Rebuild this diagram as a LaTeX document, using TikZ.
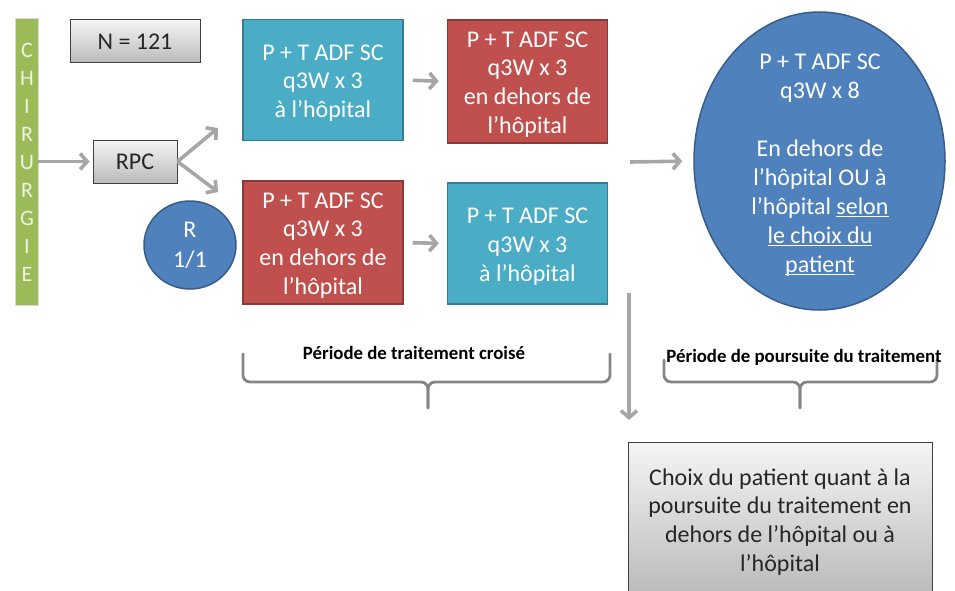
\documentclass[tikz,border=0pt]{standalone}
\usepackage{fontspec}
\setmainfont{Carlito}
\usepackage{tikz}
\usetikzlibrary{
	arrows.meta,
	positioning,
	shapes.geometric,
}
\definecolor{homefill}{HTML}{4BACC6}
\definecolor{homeline}{HTML}{357D91}
\definecolor{awayfill}{HTML}{C0504D}
\definecolor{awayline}{HTML}{8C3836}
\definecolor{bluefill}{HTML}{4F81BD}
\definecolor{blueline}{HTML}{385D8A}
\definecolor{surgfill}{HTML}{9BBB59}
\definecolor{surgtext}{HTML}{EEF3E2}
\definecolor{linkgray}{HTML}{A6A6A6}
\definecolor{bracegray}{HTML}{858585}
\newcommand\uln[1]{\underline{\smash{#1}}}
\newcommand\topstrut{\rule{0pt}{21.5pt}}

\tikzset{box/.style={draw,rectangle,inner sep=0mm,align=center,line width=1.5pt,font=\fontsize{24}{28.7}\selectfont,}}
\tikzset{home/.style={box,fill=homefill,draw=homeline,text=white,minimum width=160pt,minimum height=121pt,}}
\tikzset{away/.style={box,fill=awayfill,draw=awayline,text=white,minimum width=160pt,minimum height=123pt,}}
\tikzset{grey box/.style={box,top color=black!4,bottom color=black!27,draw=black!75,line width=1pt,text=black!85,}}
\tikzset{link/.style={->,linkgray,line width=3.6pt,}}
\tikzset{brace/.style={bracegray,line width=2.8pt,rounded corners=7pt,line cap=round,}}
\tikzset{period/.style={font=\bfseries\fontsize{18.8}{22}\selectfont,}}
\tikzset{
	>={Straight Barb[length=7pt,width=16pt]},
}

\begin{document}
\begin{tikzpicture}[x=1pt,y=-1pt]
\useasboundingbox (0,0) rectangle (955,591);

\node[draw=black!15,fill=surgfill,minimum width=23pt,minimum height=287pt,inner sep=0] (chir) at (26.5,161.5) {};
\foreach \l [count=\i] in {C,H,I,R,U,R,G,I,E}
	\node[text=surgtext,font=\fontsize{22}{24}\selectfont,inner sep=0] (c\i) at (27,{50+(\i-1)*28.1}) {\l};

\node[grey box,minimum width=130pt,minimum height=43pt] (n) at (135,41.5) {N = 121};
\node[grey box,minimum width=84pt,minimum height=43pt] (rpc) at (135,161.5) {RPC};
\node[ellipse,fill=bluefill,draw=blueline,line width=1.5pt,minimum width=92pt,minimum height=88pt,inner sep=0,text=white,align=center,font=\fontsize{24}{30}\selectfont] (r) at (190,245) {R\\1/1};

\node[home] (tc) at (323,80) {\topstrut P + T ADF SC\\q3W x 3\\à l’hôpital};
\node[away] (tr) at (527.5,81.5) {\topstrut P + T ADF SC\\q3W x 3\\en dehors de\\l’hôpital};
\node[away] (bl) at (323,242.5) {\topstrut P + T ADF SC\\q3W x 3\\en dehors de\\l’hôpital};
\node[home] (br) at (527.5,243.5) {\topstrut P + T ADF SC\\q3W x 3\\à l’hôpital};

\node[ellipse,fill=bluefill,draw=blueline,line width=1.5pt,minimum width=251pt,minimum height=298pt,inner sep=0] (ell) at (819.5,161) {};
\node[box,draw=none,text=white,font=\fontsize{24}{29.2}\selectfont] (plan) at (820,164.5) {P + T ADF SC\\q3W x 8\\[28pt]En dehors de\\l’hôpital OU à\\l’hôpital \uln{selon}\\\uln{le choix du}\\\uln{patient}};

\node[grey box,minimum width=304pt,minimum height=154pt] (choix) at (780,519) {\rule{0pt}{22pt}Choix du patient quant à la\\poursuite du traitement en\\dehors de l’hôpital ou à\\l’hôpital};

\coordinate (up) at (218,128);
\coordinate (down) at (218,192);
\coordinate (cross end) at (630,162);
\coordinate (split top) at (629,293);
\coordinate (split bot) at (629,420);

\draw[link,shorten >=3pt] (chir.east) -- (rpc.west);
\draw[link] (rpc.east) -- (up);
\draw[link] (rpc.east) -- (down);
\draw[link,shorten <=9pt,shorten >=8pt] (tc.east) -- (tr.west);
\draw[link,shorten <=9pt,shorten >=8pt] (bl.east) -- (br.west);
\draw[link,shorten >=11pt] (cross end) -- (ell.west);
\draw[link] (split top) -- (split bot);

% accolades
\draw[brace] (243,354) |- (428,382) -- (428,408);
\draw[brace] (610,354) |- (428,382) -- (428,408);
\draw[brace] (664,360) |- (800,382) -- (800,408);
\draw[brace] (937,360) |- (800,382) -- (800,408);

\node[period] (p1) at (414,353) {Période de traitement croisé};
\node[period] (p2) at (804,357) {Période de poursuite du traitement};

\end{tikzpicture}
\end{document}
